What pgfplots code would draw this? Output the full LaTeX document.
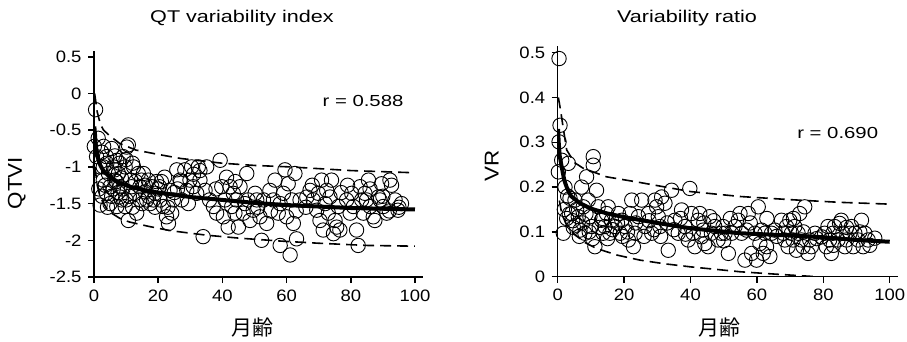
\documentclass[border=0pt]{standalone}
\usepackage{pgfplots}
\pgfplotsset{compat=1.18}
\usepackage{fontspec}
\setmainfont{Liberation Sans}[FakeStretch=1.12]
\newfontfamily\titlefont{Liberation Sans}[FakeStretch=1.27]
\newfontfamily\jp{Noto Sans CJK JP}
\begin{document}
\begin{tikzpicture}
\useasboundingbox (0,0) rectangle (907pt,341pt);
\pgfplotsset{
 myaxis/.style={
  scale only axis, axis x line=bottom, axis y line=left,
  axis line style={-, line width=1.5pt},
  tick align=outside, major tick length=6pt,
  tick style={black, line width=1.5pt},
  xmin=0, xmax=102.5,
  xtick={0,20,40,60,80,100}, xticklabels={0,20,40,60,80,100},
  ticklabel style={font=\fontsize{16.5}{18}\selectfont},
  xticklabel style={yshift=-3pt},
  yticklabel style={xshift=-3pt},
  clip mode=individual,
  anchor=south west,
 },
 pts/.style={only marks, mark=o, mark size=7.2pt, mark options={line width=0.9pt, black}},
 fitl/.style={no marks, black, line width=4pt},
 band/.style={no marks, black, line width=1.6pt, dash pattern=on 11pt off 6pt},
}
% ---------------- left: QTVI ----------------
\begin{axis}[myaxis, at={(94pt,64pt)}, width=329pt, height=226pt,
  ymin=-2.5, ymax=0.579,
  ytick={-2.5,-2,-1.5,-1,-0.5,0,0.5},
  yticklabels={-2.5,-2,-1.5,-1,-0.5,0,0.5}]
\addplot[pts] table {
0.5 -0.22
0.1 -0.72
1.3 -0.61
2.4 -0.8
1.9 -1.0
1.9 -1.52
2.9 -1.18
3.9 -0.86
4.5 -1.09
5 -1.27
5.5 -0.75
6 -1.0
6.5 -1.18
7.1 -0.91
7.6 -1.09
8.1 -1.27
8.6 -1.45
9.1 -0.86
9.7 -1.0
10.2 -0.73
10.7 -0.7
10.7 -1.73
9.7 -1.54
11.4 -1.18
12.3 -1.0
12.8 -1.36
13.3 -1.63
14.3 -1.45
14.8 -1.18
15.4 -1.09
15.9 -1.34
16.4 -1.45
18 -1.27
19 -1.36
19.5 -1.2
20.6 -1.45
21.6 -1.54
22 -1.14
22.6 -1.68
23.2 -1.77
23.7 -1.32
24.2 -1.63
24.7 -1.45
25.8 -1.04
26.8 -1.18
27.3 -1.45
28.3 -1.04
28.9 -1.32
29.4 -1.5
29.9 -1.18
30.4 -1.0
30.9 -1.27
32 -1.36
32.5 -1.0
33 -1.18
34 -1.95
34.6 -1.32
35.1 -1.0
37.2 -1.54
38.2 -1.63
39.3 -0.91
39.8 -1.27
40.3 -1.68
40.8 -1.45
41.3 -1.14
41.8 -1.82
42.4 -1.27
42.9 -1.54
43.4 -1.36
43.9 -1.63
44.4 -1.45
45 -1.82
45.5 -1.27
46.5 -1.63
47.6 -1.09
48 -1.45
48.6 -1.73
49.6 -1.59
50.2 -1.36
50.7 -1.45
51.7 -1.68
52.2 -2.0
52.8 -1.45
53.8 -1.77
54.8 -1.32
55.9 -1.45
56.4 -1.18
57.4 -1.63
58 -2.07
59 -1.36
59.5 -1.04
60 -1.68
60.5 -1.23
61.1 -2.2
61.6 -1.45
62.1 -1.77
62.6 -1.09
63.1 -1.98
64.2 -1.45
66.3 -1.41
67.3 -1.32
68.3 -1.45
69.4 -1.59
69.9 -1.36
70.4 -1.73
70.9 -1.18
71.4 -1.86
72 -1.5
72.5 -1.32
73 -1.63
73.5 -1.41
74 -1.18
74.6 -1.91
75.1 -1.73
75.6 -1.82
76.1 -1.54
76.6 -1.86
78.7 -1.45
79.8 -1.63
80.3 -1.36
80.8 -1.54
81.8 -1.86
82.3 -2.07
82.9 -1.27
83.4 -1.45
83.9 -1.63
84.4 -1.36
84.9 -1.45
85.5 -1.18
86 -1.54
87 -1.68
87.5 -1.73
88.6 -1.41
89.1 -1.45
89.6 -1.23
90.1 -1.54
91.2 -1.63
92.2 -1.18
92.7 -1.25
93.8 -1.45
94.7 -1.59
95.8 -1.5
0.8 -0.86
3.9 -1.36
5 -1.5
6.5 -1.04
8.1 -1.41
7.1 -1.54
11.7 -1.27
13.8 -1.09
14.3 -1.27
16.9 -1.18
17.5 -1.5
18.5 -1.45
20.4 -1.27
2.9 -1.0
1.5 -1.3
2.5 -1.4
3.5 -1.25
4.2 -1.55
5.5 -1.4
6 -1.3
7 -1.2
7.5 -1.35
8.5 -1.15
9 -1.3
10 -1.45
11 -1.4
12 -1.55
13 -1.2
15 -1.5
16 -1.25
17 -1.4
19 -1.55
20 -1.3
21 -1.2
23 -1.55
25 -1.35
26 -1.3
27 -1.2
31 -1.1
33 -1.05
4 -0.95
6.5 -0.85
8 -0.95
10 -0.9
12 -0.95
3 -0.72
36 -1.45
38 -1.3
44 -1.2
47 -1.5
51 -1.55
55 -1.6
58 -1.5
63 -1.6
66 -1.55
68 -1.25
77 -1.35
79 -1.25
86 -1.3
90 -1.4
95 -1.55
92 -1.6
};
\addplot[band] table {
0.2 0
1 -0.25
2 -0.42
3 -0.5
5 -0.58
8 -0.68
13 -0.77
20 -0.83
27 -0.885
40 -0.95
50 -0.98
61 -1.0
80 -1.05
100 -1.08
};
\addplot[band] table {
0.3 -1.0
1 -1.25
2 -1.42
4.4 -1.6
8 -1.7
11 -1.75
17 -1.81
24 -1.87
35 -1.93
45 -1.97
58 -2.01
70 -2.04
85 -2.07
100 -2.08
};
\addplot[fitl] table {
0.1 -0.45
0.3 -0.55
0.5 -0.68
1 -0.85
2 -0.98
3 -1.06
5 -1.14
8 -1.22
12 -1.28
16 -1.32
20 -1.35
30 -1.41
40 -1.45
50 -1.49
60 -1.52
70 -1.54
80 -1.56
90 -1.57
100 -1.58
};
\end{axis}
% ---------------- right: VR ----------------
\begin{axis}[myaxis, at={(557.7pt,64.3pt)}, width=340.3pt, height=230.7pt,
  ymin=0, ymax=0.515,
  ytick={0,0.1,0.2,0.3,0.4,0.5},
  yticklabels={0,0.1,0.2,0.3,0.4,0.5}]
\addplot[pts] table {
0.4 0.487
0.7 0.338
0.4 0.301
0.2 0.234
1.2 0.26
2.2 0.2
3.2 0.253
3.7 0.175
1.7 0.097
4.2 0.141
5.2 0.171
6.2 0.134
6.7 0.104
7.2 0.2
7.7 0.156
8.2 0.097
8.7 0.223
9.2 0.171
9.7 0.134
10.2 0.112
10.7 0.268
10.7 0.249
11.2 0.067
11.7 0.193
12.2 0.156
13.2 0.126
13.7 0.097
14.2 0.112
14.7 0.141
15.2 0.156
15.7 0.097
16.2 0.126
17.3 0.112
18.3 0.141
18.8 0.097
19.3 0.126
20.3 0.112
21.3 0.082
21.8 0.141
22.3 0.171
22.8 0.067
23.3 0.097
24.3 0.134
25.3 0.171
26.3 0.112
27.3 0.141
28.3 0.097
29.3 0.171
29.8 0.156
30.3 0.134
30.8 0.112
31.3 0.178
32.3 0.164
33.3 0.059
34.3 0.193
35.3 0.126
36.3 0.097
37.3 0.149
38.3 0.112
39.3 0.082
39.8 0.197
40.3 0.141
40.8 0.097
41.3 0.067
42.3 0.126
42.8 0.141
43.3 0.089
43.8 0.104
44.3 0.074
45.3 0.067
45.8 0.134
46.3 0.097
47.3 0.112
48.3 0.082
49.3 0.097
49.8 0.112
50.4 0.097
51.4 0.052
52.4 0.097
53.4 0.112
54.4 0.126
54.9 0.141
55.4 0.097
56.4 0.037
56.9 0.104
57.4 0.141
58.4 0.052
59.4 0.097
59.9 0.037
60.4 0.156
60.9 0.074
61.4 0.104
61.9 0.052
62.4 0.097
62.9 0.067
63.9 0.045
64.4 0.097
65.4 0.104
67.4 0.126
67.9 0.097
68.4 0.082
68.9 0.112
69.4 0.067
69.9 0.126
70.4 0.097
70.9 0.082
71.4 0.112
71.9 0.059
72.4 0.097
72.9 0.141
73.4 0.082
73.9 0.067
74.4 0.156
75.4 0.052
75.9 0.082
76.4 0.067
77.5 0.097
79.5 0.089
80.4 0.097
80.9 0.067
81.4 0.112
81.9 0.082
82.4 0.052
82.9 0.097
83.4 0.112
84.4 0.082
84.9 0.119
85.4 0.126
85.9 0.097
86.5 0.067
87 0.082
88 0.097
88.5 0.112
89 0.067
89.5 0.097
90.5 0.082
91.5 0.126
92 0.067
92.5 0.097
93.5 0.082
95.5 0.086
2.7 0.13
4.7 0.11
5.7 0.15
3 0.18
2 0.15
3.5 0.14
4.5 0.125
5.5 0.115
6.5 0.09
7.5 0.12
8.5 0.14
9.5 0.1
10.5 0.085
12.5 0.11
13.5 0.13
15 0.085
16.5 0.105
18 0.12
19.5 0.09
21 0.1
23.5 0.12
26 0.09
27.5 0.125
29 0.105
31 0.09
33 0.12
35 0.105
37 0.13
38.5 0.095
44 0.12
47 0.125
50 0.08
52 0.13
58 0.12
63 0.13
66 0.09
71 0.13
74 0.1
78 0.085
83 0.07
87 0.11
91 0.1
94 0.07
};
\addplot[band] table {
0.2 0.40
0.9 0.37
1.5 0.34
2.7 0.283
5 0.255
7.7 0.242
14.7 0.223
25 0.21
40 0.19
55 0.179
70 0.172
85 0.166
100 0.162
};
\addplot[band] table {
0.5 0.17
1.2 0.1415
2.5 0.118
4.7 0.097
8 0.077
11.7 0.063
18 0.048
24.8 0.037
32 0.029
40 0.022
55 0.011
65 0.006
78 0.0
};
\addplot[fitl] table {
0.1 0.33
0.3 0.30
0.6 0.27
1.2 0.245
2 0.215
2.7 0.2
4 0.18
6.7 0.164
10 0.152
14.7 0.1415
20 0.133
25 0.1265
30 0.12
40 0.108
55 0.097
70 0.092
80 0.088
90 0.082
100 0.078
};
\end{axis}
% ---------------- text ----------------
\node[font=\titlefont\fontsize{17}{20}\selectfont] at (242pt,323pt) {QT variability index};
\node[font=\titlefont\fontsize{17}{20}\selectfont] at (687pt,323pt) {Variability ratio};
\node[rotate=90, font=\fontsize{20}{24}\selectfont] at (16.7pt,158pt) {QTVI};
\node[rotate=90, font=\fontsize{20}{24}\selectfont] at (491.7pt,175.3pt) {VR};
\node[font=\jp\fontsize{21}{24}\selectfont] at (252.3pt,13pt) {月齢};
\node[font=\jp\fontsize{21}{24}\selectfont] at (719pt,13pt) {月齢};
\node[font=\titlefont\fontsize{16}{18}\selectfont] at (363pt,240pt) {r = 0.588};
\node[font=\titlefont\fontsize{16}{18}\selectfont] at (837.7pt,208.5pt) {r = 0.690};
\end{tikzpicture}
\end{document}
